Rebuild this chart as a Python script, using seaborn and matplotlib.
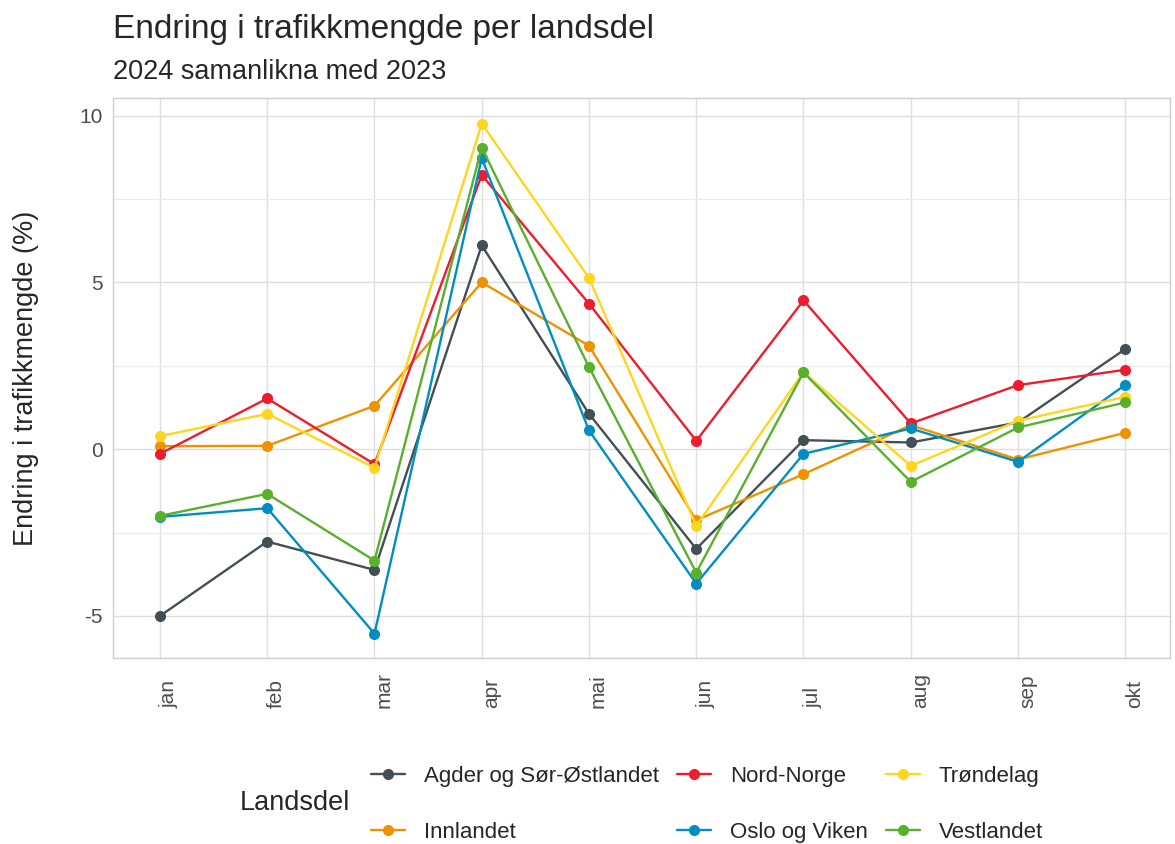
import pandas as pd
import seaborn as sns
import matplotlib.pyplot as plt
from matplotlib.ticker import MultipleLocator

# månader og endring i prosent, lest av figuren
maneder = ["jan", "feb", "mar", "apr", "mai", "jun", "jul", "aug", "sep", "okt"]

agder = [-5.0, -2.77, -3.62, 6.11, 1.06, -2.99, 0.27, 0.2, 0.8, 3.0]
innlandet = [0.09, 0.1, 1.3, 5.0, 3.1, -2.13, -0.75, 0.72, -0.31, 0.49]
nord_norge = [-0.14, 1.52, -0.45, 8.22, 4.36, 0.25, 4.46, 0.77, 1.92, 2.38]
oslo_viken = [-2.03, -1.77, -5.53, 8.72, 0.56, -4.03, -0.14, 0.62, -0.38, 1.93]
trondelag = [0.39, 1.06, -0.56, 9.76, 5.13, -2.3, 2.31, -0.5, 0.85, 1.57]
vestlandet = [-2.0, -1.34, -3.34, 9.04, 2.46, -3.7, 2.3, -0.98, 0.65, 1.4]

landsdeler = ["Agder og Sør-Østlandet", "Innlandet", "Nord-Norge",
              "Oslo og Viken", "Trøndelag", "Vestlandet"]
farger = ["#444f55", "#ed9300", "#ed1c2e", "#008ec2", "#ffd520", "#58b02c"]
serier = [agder, innlandet, nord_norge, oslo_viken, trondelag, vestlandet]

rows = []
for navn, verdier in zip(landsdeler, serier):
    for m, v in zip(maneder, verdier):
        rows.append({"maned": m, "endring": v, "Landsdel": navn})
df = pd.DataFrame(rows)
df["pos"] = df["maned"].map({m: i for i, m in enumerate(maneder)})

sns.set_style("whitegrid")
plt.rcParams['font.family'] = ['Liberation Sans', 'DejaVu Sans']

fig, ax = plt.subplots(figsize=(11.75, 8.44), dpi=100)
fig.subplots_adjust(left=0.096, right=0.996, top=0.884, bottom=0.22)

sns.lineplot(data=df, x="pos", y="endring", hue="Landsdel",
             hue_order=landsdeler, palette=dict(zip(landsdeler, farger)),
             marker="o", markersize=8, markeredgewidth=0, linewidth=1.7,
             ax=ax, legend=True)

ax.set_xlim(-0.44, 9.42)
ax.set_ylim(-6.27, 10.53)
ax.set_xticks(range(len(maneder)))
# etikettane startar nedst og går oppover, som i ggplot
ax.set_xticklabels(maneder, rotation=90, rotation_mode="anchor",
                   ha="left", va="top", fontsize=15, color="#4d4d4d")
ax.yaxis.set_minor_locator(MultipleLocator(2.5))
ax.set_yticks([-5, 0, 5, 10])
ax.set_yticklabels(["-5", "0", "5", "10"], fontsize=15, color="#4d4d4d")
ax.tick_params(axis="both", which="major", length=4, color="#b3b3b3", width=0.8, pad=3)
ax.tick_params(axis="x", which="major", pad=32)
ax.tick_params(axis="y", which="minor", length=0)

ax.grid(which="major", color="#dedede", linewidth=1.0)
ax.grid(which="minor", axis="y", color="#ebebeb", linewidth=0.8)
for s in ax.spines.values():
    s.set_color("#cfcfcf")
    s.set_linewidth(1.0)

ax.set_xlabel("")
ax.set_ylabel("Endring i trafikkmengde (%)", fontsize=19.5, labelpad=29)

fig.text(0.096, 0.965, "Endring i trafikkmengde per landsdel", fontsize=24,
         va="center", ha="left")
fig.text(0.096, 0.915, "2024 samanlikna med 2023", fontsize=19.5,
         va="center", ha="left")

handles, labels = ax.get_legend_handles_labels()
ax.legend_.remove()
leg = fig.legend(handles, labels, ncol=3, loc="center left",
                 bbox_to_anchor=(0.299, 0.047), frameon=False, fontsize=16,
                 handlelength=1.5, columnspacing=0.85, labelspacing=1.6,
                 handletextpad=0.85)
fig.text(0.204, 0.049, "Landsdel", fontsize=19.5, va="center", ha="left")

fig.savefig("out.png", dpi=100)
